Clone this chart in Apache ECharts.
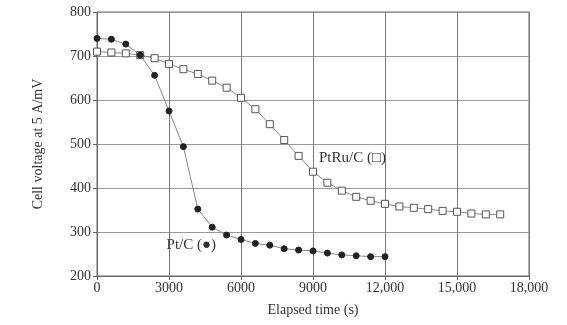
<!DOCTYPE html>
<html>
<head>
<meta charset="utf-8">
<script src="https://cdn.jsdelivr.net/npm/echarts@6/dist/echarts.min.js"></script>
<style>html,body{margin:0;padding:0;background:#fff;}#c{width:567px;height:325px;}</style>
</head>
<body>
<div id="c"></div>
<script>
var ptTime = [0,600,1200,1800,2400,3000,3600,4200,4800,5400,6000,6600,7200,7800,8400,9000,9600,10200,10800,11400,12000];
var ptVolt = [740,738,727,702,656,575,494,352,311,293,283,274,270,262,259,257,252,248,246,244,244];
var ptruTime = [0,600,1200,1800,2400,3000,3600,4200,4800,5400,6000,6600,7200,7800,8400,9000,9600,10200,10800,11400,12000,12600,13200,13800,14400,15000,15600,16200,16800];
var ptruVolt = [710,708,706,702,695,682,670,659,644,628,605,579,545,509,473,437,412,394,380,371,364,358,355,352,348,346,342,340,340];
var xTicks = ['0','3000','6000','9000','12,000','15,000','18,000'];
var xLabel = 'Elapsed time (s)';
var yLabel = 'Cell voltage at 5 A/mV';
var annotations = [
  {text:'PtRu/C (\u25A1)', at:[9250,464]},
  {text:'Pt/C (\u25CF)', at:[2900,266]}
];

function pairs(a,b){return a.map(function(v,i){return [v,b[i]];});}
var font = '"Liberation Serif", "DejaVu Serif", serif';
var chart = echarts.init(document.getElementById('c'));
chart.setOption({
  animation:false,
  backgroundColor:'#fff',
  textStyle:{fontFamily:font},
  grid:{left:97,right:38,top:12,bottom:49,show:true,borderColor:'#666',borderWidth:1},
  xAxis:{type:'value',min:0,max:18000,interval:3000,
    name:xLabel,nameLocation:'middle',nameGap:27,
    nameTextStyle:{fontFamily:font,fontSize:14,color:'#333'},
    axisLine:{show:true,lineStyle:{color:'#666'}},
    axisTick:{show:true,inside:false,length:4,lineStyle:{color:'#666'}},
    axisLabel:{fontFamily:font,fontSize:14,color:'#333',margin:5,
      formatter:function(v){return xTicks[Math.round(v/3000)];}},
    splitLine:{show:true,lineStyle:{color:'#777',width:1}}},
  yAxis:{type:'value',min:200,max:800,interval:100,
    name:yLabel,nameLocation:'middle',nameGap:52,
    nameTextStyle:{fontFamily:font,fontSize:14,color:'#333'},
    axisLine:{show:true,lineStyle:{color:'#666'}},
    axisTick:{show:true,inside:false,length:4,lineStyle:{color:'#666'}},
    axisLabel:{fontFamily:font,fontSize:14,color:'#333',margin:6},
    splitLine:{show:true,lineStyle:{color:'#999',width:1}}},
  series:[
    {type:'line',data:pairs(ptruTime,ptruVolt),symbol:'rect',symbolSize:7,
     lineStyle:{color:'#888',width:1},
     itemStyle:{color:'#fff',borderColor:'#555',borderWidth:1}},
    {type:'line',data:pairs(ptTime,ptVolt),symbol:'circle',symbolSize:6,
     lineStyle:{color:'#888',width:1},
     itemStyle:{color:'#222',borderColor:'#222'}}
  ]
});
chart.setOption({
  graphic: annotations.map(function(a){
    var p = chart.convertToPixel({gridIndex:0}, a.at);
    return {type:'text', left:p[0], top:p[1]-9, silent:true,
      style:{text:a.text, font:'15px ' + font, fill:'#333'}};
  })
});
</script>
</body>
</html>
